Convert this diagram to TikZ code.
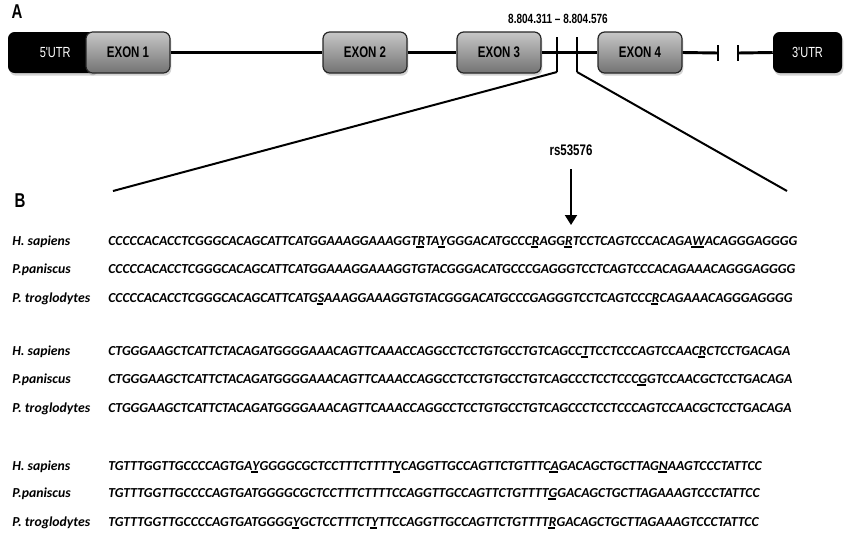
\documentclass[tikz,border=0pt]{standalone}
\usepackage{fontspec}
\usepackage{graphicx}
\usepackage{tikz}
\usetikzlibrary{arrows.meta,shadows}
\newfontfamily\hdfont{Liberation Sans}
\newfontfamily\seqfont{Carlito}
\newcommand\narrow[1]{\scalebox{0.75}[1]{#1}}
\newcommand\snp[1]{\setbox0=\hbox{#1}\rlap{\kern-0.9pt\rule[-1.9pt]{\wd0}{0.9pt}}\box0}

\begin{document}
\begin{tikzpicture}[
  x=0.75pt, y=-0.75pt,
  exon/.style = {draw=black!85, line width=0.9pt, rounded corners=5pt,
                 top color=black!22, bottom color=black!55, inner sep=0pt,
                 minimum width=63pt, minimum height=30.75pt,
                 drop shadow={shadow xshift=1pt, shadow yshift=-2pt, opacity=0.35},
                 font=\hdfont\bfseries\fontsize{11.5}{13}\selectfont},
  utr/.style  = {fill=black, rounded corners=5pt, text=white, inner sep=0pt,
                 minimum height=30.75pt,
                 drop shadow={shadow xshift=1pt, shadow yshift=-2pt, opacity=0.35},
                 font=\hdfont\fontsize{11}{13}\selectfont},
  panel/.style= {font=\hdfont\bfseries\fontsize{15}{17}\selectfont},
  spc/.style  = {anchor=base west, inner sep=0pt,
                 font=\seqfont\bfseries\itshape\fontsize{10.3}{12}\selectfont},
  seq/.style  = {spc},
  gene/.style = {line width=2.2pt},
  tick/.style = {line width=1.1pt},
  zoomline/.style = {line width=1.5pt},
]
\useasboundingbox (0,0) rectangle (850,536);

% ========== Gene model (A) ==========
\node[panel] (pA) at (17,12) {\narrow{A}};

\node[utr, minimum width=66.75pt] (U5) at (52.5,52.5) {\hspace*{4pt}\narrow{5'UTR}};
\node[exon] (E1) at (128,52.5) {\narrow{EXON 1}};
\node[exon] (E2) at (365,52.5) {\narrow{EXON 2}};
\node[exon] (E3) at (499,52.5) {\narrow{EXON 3}};
\node[exon] (E4) at (640,52.5) {\narrow{EXON 4}};
\node[utr, minimum width=51.75pt] (U3) at (807.5,52.5) {\narrow{3'UTR}};

\coordinate (brkL) at (718,53);
\coordinate (brkR) at (738,53);
\draw[gene] (E1.east) -- (E2.west);
\draw[gene] (E2.east) -- (E3.west);
\draw[gene] (E3.east) -- (E4.west);
\draw[gene] (E4.east) -- (brkL);
\draw[gene] (brkR) -- (U3.west);
\draw[gene] ([yshift=6pt]brkL) -- ([yshift=-6pt]brkL);
\draw[gene] ([yshift=6pt]brkR) -- ([yshift=-6pt]brkR);

% region of the SNP
\node[font=\hdfont\bfseries\fontsize{10}{12}\selectfont] (rng) at (558,19)
  {\narrow{8.804.311 \textendash\ 8.804.576}};
\coordinate (t1top) at (557,37);
\coordinate (t1bot) at (557,72);
\coordinate (t2top) at (577,37);
\coordinate (t2bot) at (577,72);
\draw[tick] (t1top) -- (t1bot);
\draw[tick] (t2top) -- (t2bot);

% zoom into the sequence
\coordinate (zL) at (113,191);
\coordinate (zR) at (787,191);
\draw[zoomline] (t1bot) -- (zL);
\draw[zoomline] (t2bot) -- (zR);

% ========== Alignment (B) ==========
\node[panel] (pB) at (20,201) {\narrow{B}};

\node[font=\hdfont\bfseries\fontsize{11.5}{13}\selectfont] (rs) at (571,150) {\narrow{rs53576}};
\coordinate (snp) at (571,225);
\draw[line width=1.5pt, -{Triangle[width=9pt,length=7.5pt]}, shorten <=7pt]
  (rs.south) -- (snp);

% block 1
\node[spc] (lh1) at (12,245) {H. sapiens};
\node[spc] (lp1) at (12,273) {P.paniscus};
\node[spc] (lt1) at (12,302) {P. troglodytes};
\node[seq] (sh1) at (108,245)
  {CCCCCACACCTCGGGCACAGCATTCATGGAAAGGAAAGGT\snp{R}TA\snp{Y}GGGACATGCCC\snp{R}AGG\snp{R}TCCTCAGTCCCACAGA\snp{W}ACAGGGAGGGG};
\node[seq] (sp1) at (108,273)
  {CCCCCACACCTCGGGCACAGCATTCATGGAAAGGAAAGGTGTACGGGACATGCCCGAGGGTCCTCAGTCCCACAGAAACAGGGAGGGG};
\node[seq] (st1) at (108,302)
  {CCCCCACACCTCGGGCACAGCATTCATG\snp{S}AAAGGAAAGGTGTACGGGACATGCCCGAGGGTCCTCAGTCCC\snp{R}CAGAAACAGGGAGGGG};

% block 2
\node[spc] (lh2) at (12,355) {H. sapiens};
\node[spc] (lp2) at (12,383) {P.paniscus};
\node[spc] (lt2) at (12,412) {P. troglodytes};
\node[seq] (sh2) at (108,355)
  {CTGGGAAGCTCATTCTACAGATGGGGAAACAGTTCAAACCAGGCCTCCTGTGCCTGTCAGCC\snp{T}TCCTCCCAGTCCAAC\snp{R}CTCCTGACAGA};
\node[seq] (sp2) at (108,383)
  {CTGGGAAGCTCATTCTACAGATGGGGAAACAGTTCAAACCAGGCCTCCTGTGCCTGTCAGCCCTCCTCCC\snp{G}GTCCAACGCTCCTGACAGA};
\node[seq] (st2) at (108,412)
  {CTGGGAAGCTCATTCTACAGATGGGGAAACAGTTCAAACCAGGCCTCCTGTGCCTGTCAGCCCTCCTCCCAGTCCAACGCTCCTGACAGA};

% block 3
\node[spc] (lh3) at (12,470) {H. sapiens};
\node[spc] (lp3) at (12,497) {P.paniscus};
\node[spc] (lt3) at (12,526) {P. troglodytes};
\node[seq] (sh3) at (108,470)
  {TGTTTGGTTGCCCCAGTGA\snp{Y}GGGGCGCTCCTTTCTTTT\snp{Y}CAGGTTGCCAGTTCTGTTTC\snp{A}GACAGCTGCTTAG\snp{N}AAGTCCCTATTCC};
\node[seq] (sp3) at (108,497)
  {TGTTTGGTTGCCCCAGTGATGGGGCGCTCCTTTCTTTTCCAGGTTGCCAGTTCTGTTTT\snp{G}GACAGCTGCTTAGAAAGTCCCTATTCC};
\node[seq] (st3) at (108,526)
  {TGTTTGGTTGCCCCAGTGATGGGG\snp{Y}GCTCCTTTCT\snp{Y}TTCCAGGTTGCCAGTTCTGTTTT\snp{R}GACAGCTGCTTAGAAAGTCCCTATTCC};

\end{tikzpicture}
\end{document}
